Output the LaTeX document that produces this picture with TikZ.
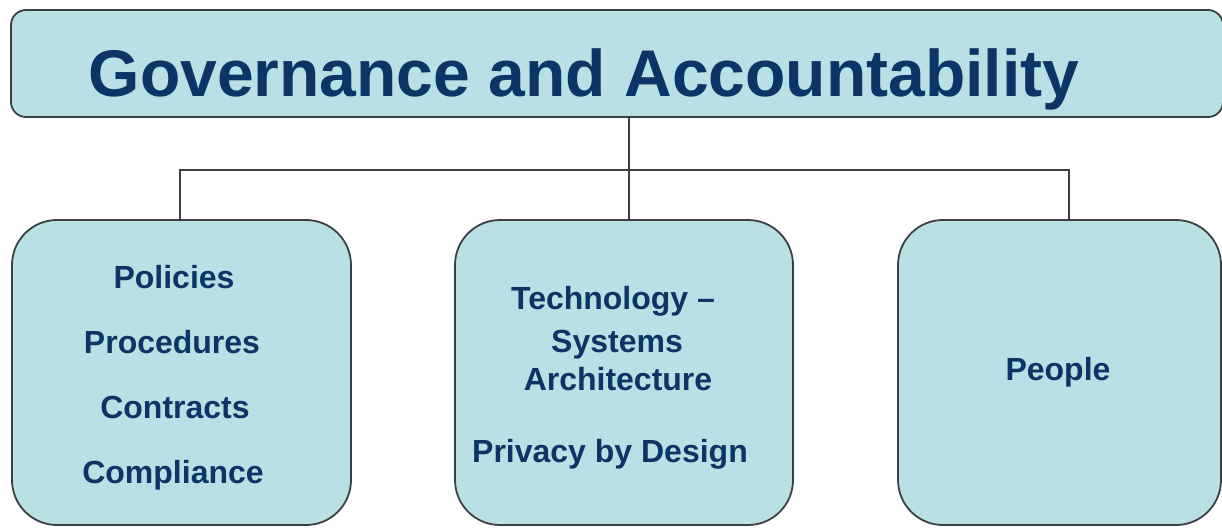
\documentclass[tikz,border=0pt]{standalone}
\usepackage{fontspec}
\setmainfont{Liberation Sans}
\usetikzlibrary{positioning}
\definecolor{boxfill}{RGB}{185,224,228}
\definecolor{navy}{RGB}{12,52,102}
\definecolor{rim}{RGB}{60,64,66}

\begin{document}
\begin{tikzpicture}[x=1pt,y=-1pt,
    card/.style={draw=rim, line width=1.8pt, fill=boxfill, rounded corners=45pt, inner sep=0pt},
    word/.style={text=navy, font=\bfseries\fontsize{32}{38}\selectfont, anchor=base, inner sep=0pt},
    link/.style={draw=rim, line width=1.6pt}]
    \useasboundingbox (0,0) rectangle (1222,528);
    % top bar
    \node [card, rounded corners=15pt, minimum width=1212pt, minimum height=107pt] (gov) at (617,63.5) {};
    \node [word, font=\bfseries\fontsize{66}{70}\selectfont] (govtext) at (584,96) {Governance and Accountability};
    % three boxes
    \node [card, minimum width=339pt, minimum height=305pt] (lft) at (181.5,372.5) {};
    \node [card, minimum width=338pt, minimum height=305pt] (mid) at (624,372.5) {};
    \node [card, minimum width=323pt, minimum height=305pt] (rgt) at (1059.5,372.5) {};
    % connectors
    \coordinate (hub) at (629,170);
    \draw [link] (hub |- gov.south) -- (hub |- mid.north);
    \draw [link] ([xshift=-1.5pt]lft.north) |- ([xshift=9.5pt]rgt.north |- hub) -- ([xshift=9.5pt]rgt.north);
    % labels
    \node [word] (pol) at (174,288) {Policies};
    \node [word] (proc) at (172,353) {Procedures};
    \node [word] (cont) at (175,418) {Contracts};
    \node [word] (comp) at (173,483) {Compliance};
    \node [word] (tech) at (613,309) {Technology –};
    \node [word] (sys) at (617,352) {Systems};
    \node [word] (arch) at (618,390) {Architecture};
    \node [word] (priv) at (610,462) {Privacy by Design};
    \node [word] (ppl) at (1058,380) {People};
\end{tikzpicture}
\end{document}
